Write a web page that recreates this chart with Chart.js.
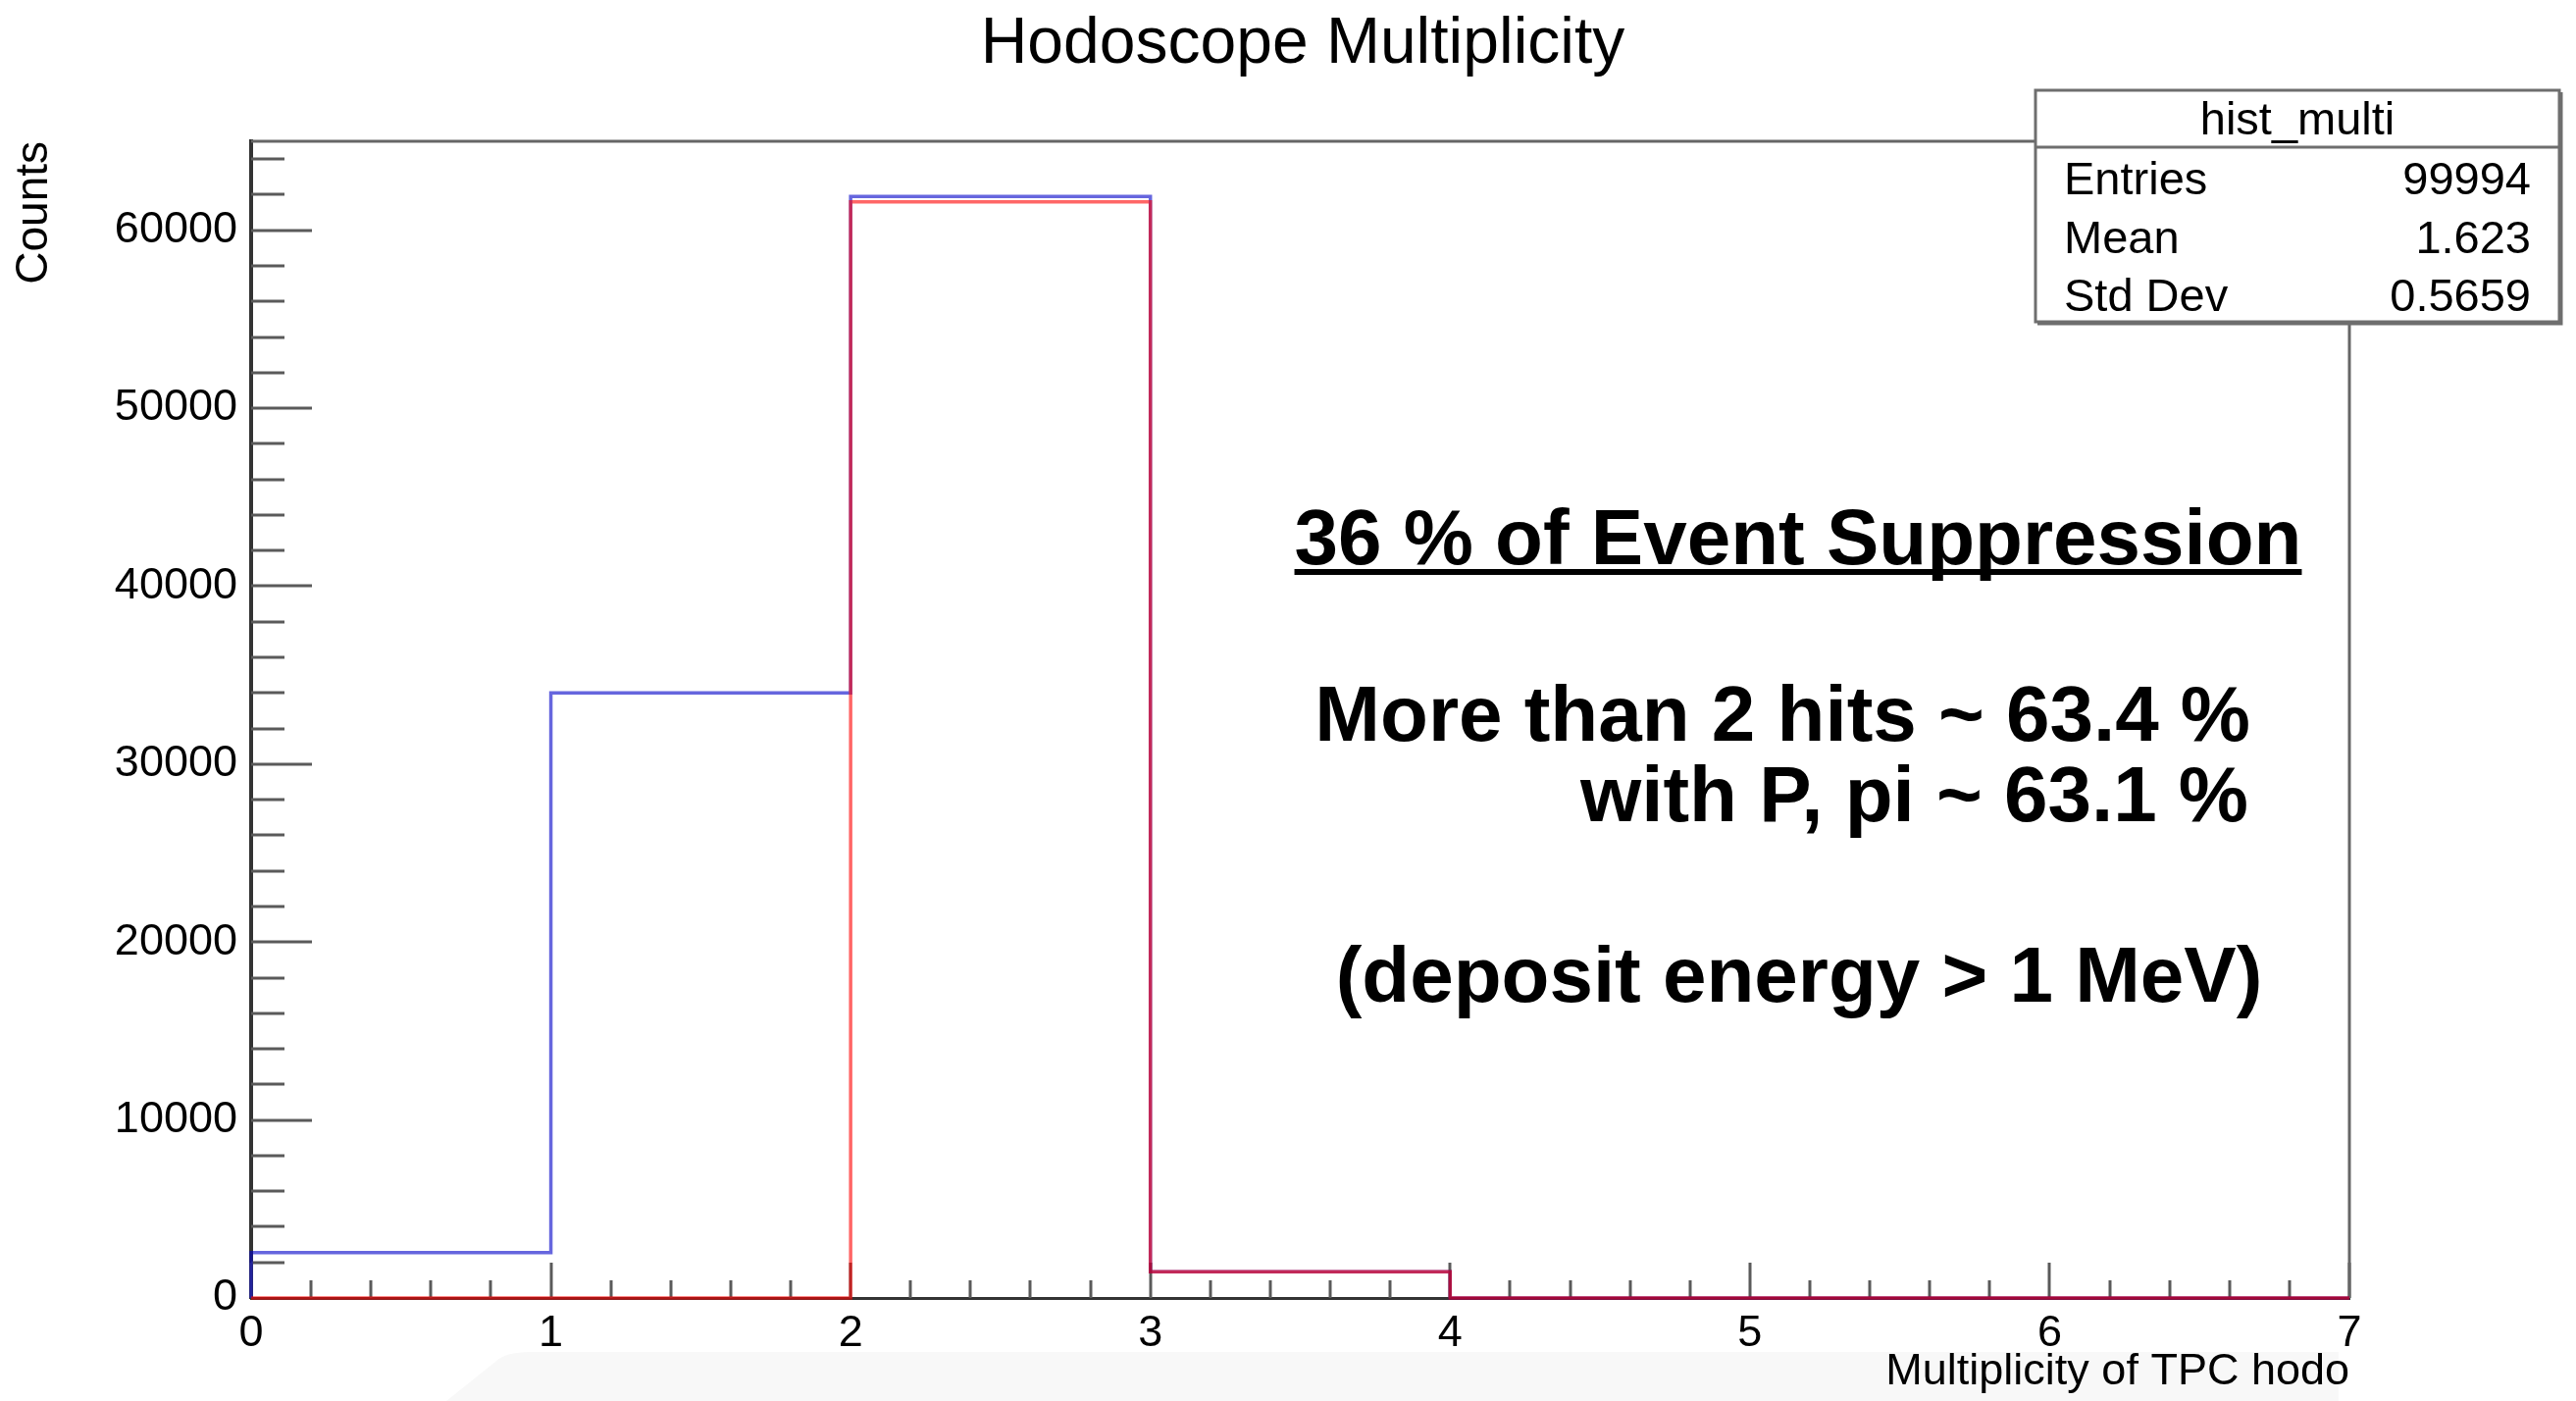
<!DOCTYPE html>
<html>
<head>
<meta charset="utf-8">
<script src="https://cdn.jsdelivr.net/npm/chart.js@4.4.1/dist/chart.umd.min.js"></script>
<style>
  html, body { margin: 0; padding: 0; background: #fff; }
  canvas { display: block; }
</style>
</head>
<body>
<canvas id="hodo" width="2626" height="1428"></canvas>
<script>
(function () {
  'use strict';

  // histogram bins (multiplicity), edges 0..7
  var binEdges = [0, 1, 2, 3, 4, 5, 6, 7];
  var allEvents = [2550, 34000, 61900, 1480, 0, 0, 0];   // blue
  var withPPi = [0, 0, 61600, 1480, 0, 0, 0];            // red

  var yTicks = [0, 10000, 20000, 30000, 40000, 50000, 60000];

  var statsLabels = ['Entries', 'Mean', 'Std Dev'];
  var statsValues = ['99994', '1.623', '0.5659'];

  var noteLines = [
    '36 % of Event Suppression',
    'More than 2 hits ~ 63.4 %',
    'with P, pi ~ 63.1 %',
    '(deposit energy > 1 MeV)'
  ];

  var FONT = '"Liberation Sans", Arial, Helvetica, sans-serif';

  function stepPoints(vals) {
    var pts = [{ x: binEdges[0], y: 0 }];
    for (var i = 0; i < vals.length; i++) {
      pts.push({ x: binEdges[i], y: vals[i] });
    }
    pts.push({ x: binEdges[binEdges.length - 1], y: vals[vals.length - 1] });
    pts.push({ x: binEdges[binEdges.length - 1], y: 0 });
    return pts;
  }

  // ROOT-like decorations: inside ticks, frame, faint slide band
  var rootFrame = {
    id: 'rootFrame',
    beforeDraw: function (chart) {
      var ctx = chart.ctx;
      ctx.save();
      ctx.fillStyle = '#f8f8f8';
      ctx.beginPath();
      ctx.moveTo(455, 1428);
      ctx.lineTo(505, 1388);
      ctx.quadraticCurveTo(515, 1378, 540, 1378);
      ctx.lineTo(2384, 1378);
      ctx.lineTo(2384, 1428);
      ctx.closePath();
      ctx.fill();
      ctx.restore();
    },
    beforeDatasetsDraw: function (chart) {
      var ctx = chart.ctx;
      var a = chart.chartArea;
      var xs = chart.scales.x, ys = chart.scales.y;
      ctx.save();
      ctx.strokeStyle = '#5a5a5a';
      ctx.lineWidth = 3;
      ctx.beginPath();
      var v, p, len;
      for (v = 2000; v <= 65000; v += 2000) {
        p = Math.round(ys.getPixelForValue(v));
        len = (v % 10000 === 0) ? 62 : 34;
        ctx.moveTo(a.left, p);
        ctx.lineTo(a.left + len, p);
      }
      for (var k = 0; k <= 35; k++) {
        v = k * 0.2;
        p = Math.round(xs.getPixelForValue(v));
        len = (k % 5 === 0) ? 36 : 18;
        ctx.moveTo(p, a.bottom);
        ctx.lineTo(p, a.bottom - len);
      }
      ctx.stroke();
      // top and right frame
      ctx.strokeStyle = '#666';
      ctx.lineWidth = 3;
      ctx.beginPath();
      ctx.moveTo(a.left, a.top);
      ctx.lineTo(a.right, a.top);
      ctx.lineTo(a.right, a.bottom);
      ctx.stroke();
      ctx.restore();
    },
    afterDraw: function (chart) {
      var ctx = chart.ctx;
      ctx.save();
      // title
      ctx.fillStyle = '#000';
      ctx.textAlign = 'center';
      ctx.textBaseline = 'alphabetic';
      ctx.font = '66px ' + FONT;
      ctx.fillText('Hodoscope Multiplicity', 1328, 64);

      // stats box
      var bx = 2075, by = 92, bw = 534, bh = 236;
      ctx.fillStyle = '#fff';
      ctx.fillRect(bx, by, bw, bh);
      ctx.strokeStyle = '#6e6e6e';
      ctx.lineWidth = 3;
      ctx.strokeRect(bx, by, bw, bh);
      ctx.beginPath();
      ctx.moveTo(bx, 150);
      ctx.lineTo(bx + bw, 150);
      ctx.moveTo(bx + 2, by + bh + 2);
      ctx.lineTo(bx + bw + 2, by + bh + 2);
      ctx.lineTo(bx + bw + 2, by + 2);
      ctx.stroke();
      ctx.fillStyle = '#000';
      ctx.font = '47px ' + FONT;
      ctx.textAlign = 'center';
      ctx.fillText('hist_multi', bx + bw / 2, 137);
      var rowY = [198, 258, 317];
      for (var i = 0; i < statsLabels.length; i++) {
        ctx.textAlign = 'left';
        ctx.fillText(statsLabels[i], 2104, rowY[i]);
        ctx.textAlign = 'right';
        ctx.fillText(statsValues[i], 2580, rowY[i]);
      }

      // annotation block
      ctx.font = 'bold 80px ' + FONT;
      ctx.textAlign = 'center';
      ctx.fillText(noteLines[0], 1833, 575);
      var w0 = ctx.measureText(noteLines[0]).width;
      ctx.fillRect(1833 - w0 / 2, 580, w0, 6);
      ctx.textAlign = 'right';
      ctx.fillText(noteLines[1], 2294, 755);
      ctx.fillText(noteLines[2], 2292, 837);
      ctx.textAlign = 'center';
      ctx.fillText(noteLines[3], 1834, 1021);
      ctx.restore();
    }
  };

  var el = document.getElementById('hodo');
  new Chart(el, {
    type: 'line',
    data: {
      datasets: [
        {
          label: 'with P, pi',
          data: stepPoints(withPPi),
          borderColor: 'rgba(255, 0, 0, 0.6)',
          borderWidth: 3.5,
          stepped: 'before',
          pointRadius: 0,
          fill: false,
          clip: 6
        },
        {
          label: 'hist_multi',
          data: stepPoints(allEvents),
          borderColor: 'rgba(0, 0, 200, 0.6)',
          borderWidth: 3.5,
          stepped: 'before',
          pointRadius: 0,
          fill: false,
          clip: 6
        }
      ]
    },
    options: {
      responsive: false,
      animation: false,
      devicePixelRatio: 1,
      layout: { padding: { top: 144, right: 231, bottom: 0, left: 0 } },
      plugins: {
        legend: { display: false },
        tooltip: { enabled: false }
      },
      scales: {
        x: {
          type: 'linear',
          min: 0,
          max: 7,
          afterFit: function (s) { s.height = 105; },
          grid: { display: false, drawTicks: false },
          border: { display: true, color: '#333', width: 3 },
          ticks: {
            stepSize: 1,
            autoSkip: false,
            maxRotation: 0,
            padding: 10,
            color: '#000',
            font: { family: FONT, size: 45 }
          },
          title: {
            display: true,
            text: 'Multiplicity of TPC hodo',
            align: 'end',
            color: '#000',
            padding: { top: 0, bottom: 2 },
            font: { family: FONT, size: 45 }
          }
        },
        y: {
          type: 'linear',
          min: 0,
          max: 65000,
          afterFit: function (s) { s.width = 256; },
          afterBuildTicks: function (s) {
            s.ticks = yTicks.map(function (t) { return { value: t }; });
          },
          grid: { display: false, drawTicks: false },
          border: { display: true, color: '#333', width: 4 },
          ticks: {
            autoSkip: false,
            padding: 14,
            color: '#000',
            font: { family: FONT, size: 45 },
            callback: function (v) { return String(v); }
          },
          title: {
            display: true,
            text: 'Counts',
            align: 'end',
            color: '#000',
            padding: { top: 8, bottom: 0 },
            font: { family: FONT, size: 46 }
          }
        }
      }
    },
    plugins: [rootFrame]
  });
})();
</script>
</body>
</html>
